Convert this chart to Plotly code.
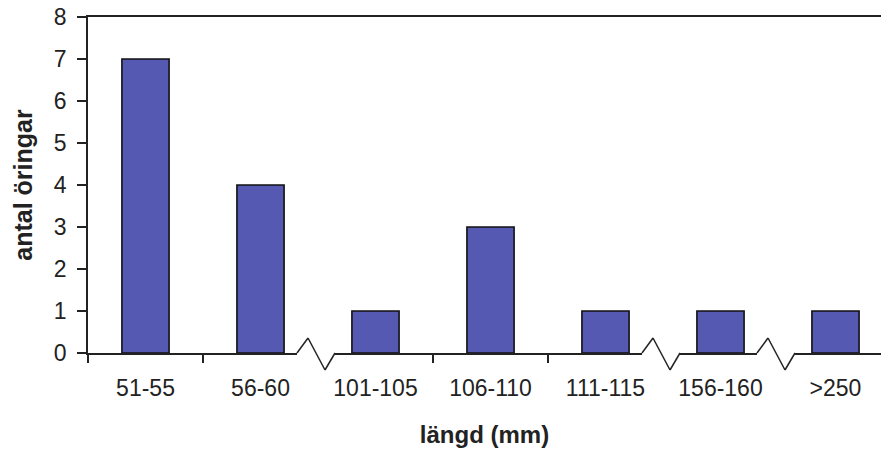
import plotly.graph_objects as go

categories = ["51-55", "56-60", "101-105", "106-110", "111-115", "156-160", ">250"]
counts = [7, 4, 1, 3, 1, 1, 1]
breaks_after = ["56-60", "111-115", "156-160"]
y_ticks = [0, 1, 2, 3, 4, 5, 6, 7, 8]

W, H = 881, 456
ML, MR, MT, MB = 88, 0, 17, 103
plot_w = W - ML - MR
plot_h = H - MT - MB
cat_px = 115.0
x_lo = -0.5
x_hi = x_lo + plot_w / cat_px

fig = go.Figure(go.Bar(
    x=categories, y=counts,
    marker=dict(color="rgb(86,89,178)", line=dict(color="#111", width=1.6)),
    width=0.41,
))

def px_to_paper_x(idx, dx_px):
    return (idx - x_lo) / (x_hi - x_lo) + dx_px / plot_w

def py(dy_px):
    return dy_px / plot_h

shapes = []
for name in breaks_after:
    b = categories.index(name) + 0.5
    # white-out axis segment and tick
    shapes.append(dict(type="rect", xref="paper", yref="paper",
                       x0=px_to_paper_x(b, -21), x1=px_to_paper_x(b, 17),
                       y0=py(-10), y1=py(2.5), fillcolor="white",
                       line=dict(width=0), layer="above"))
    pts = [(-21, 0), (-10, 15), (7, -17), (17, 0)]
    for (ax, ay), (bx, by) in zip(pts[:-1], pts[1:]):
        shapes.append(dict(type="line", xref="paper", yref="paper",
                           x0=px_to_paper_x(b, ax), y0=py(ay),
                           x1=px_to_paper_x(b, bx), y1=py(by),
                           line=dict(color="#222", width=1.5), layer="above"))

fig.update_layout(
    width=W, height=H,
    margin=dict(l=ML, r=MR, t=MT, b=MB, pad=0),
    paper_bgcolor="white", plot_bgcolor="white",
    showlegend=False,
    font=dict(family="Liberation Sans, Arial, sans-serif", color="#222"),
    shapes=shapes,
    xaxis=dict(
        type="category", range=[x_lo, x_hi],
        showline=True, linecolor="#222", linewidth=1.6, mirror=True,
        ticks="outside", tickson="boundaries", ticklen=8, tickcolor="#222", tickwidth=1.5,
        tickfont=dict(size=23), ticklabelstandoff=14,
        showgrid=False,
        title=dict(text="<b>längd (mm)</b>", font=dict(size=24), standoff=26),
    ),
    yaxis=dict(
        range=[0, 8], tickvals=y_ticks,
        showline=True, linecolor="#222", linewidth=1.6,
        ticks="outside", ticklen=9, tickcolor="#222", tickwidth=1.5,
        tickfont=dict(size=23), ticklabelstandoff=6, showgrid=False, zeroline=False,
        title=dict(text="<b>antal öringar</b>", font=dict(size=25), standoff=14),
    ),
)

fig.write_html("out.html")
